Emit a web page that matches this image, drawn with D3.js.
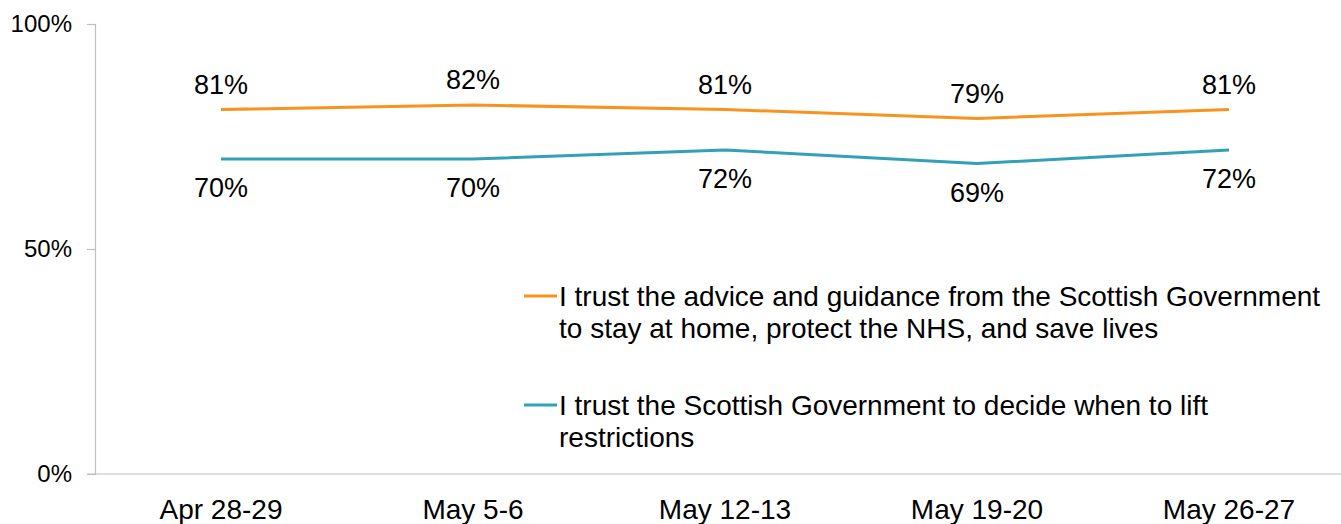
<!DOCTYPE html>
<html>
<head>
<meta charset="utf-8">
<script src="https://cdn.jsdelivr.net/npm/d3@7"></script>
<style>
  html, body { margin: 0; padding: 0; background: #fff; }
  svg { display: block; font-family: "Liberation Sans", Arial, sans-serif; }
</style>
</head>
<body>
<svg id="chart" width="1341" height="524"></svg>
<script>
// Survey waves
const categories = ["Apr 28-29", "May 5-6", "May 12-13", "May 19-20", "May 26-27"];
// Share agreeing, per wave (%)
const adviceTrust = [81, 82, 81, 79, 81];
const liftTrust = [70, 70, 72, 69, 72];
const yTicks = [0, 50, 100];
const seriesNames = [
  ["I trust the advice and guidance from the Scottish Government", "to stay at home, protect the NHS, and save lives"],
  ["I trust the Scottish Government to decide when to lift", "restrictions"]
];

const series = [
  { values: adviceTrust, color: "#F7931E", labelDy: -16, name: seriesNames[0] },
  { values: liftTrust, color: "#31A0B8", labelDy: 38, name: seriesNames[1] }
];

const svg = d3.select("#chart");
const plotLeft = 95, plotTop = 24, plotBottom = 474, plotRight = 1355;

const x = d3.scaleBand().domain(categories).range([plotLeft, plotRight]);
const y = d3.scaleLinear().domain([0, 100]).range([plotBottom, plotTop]);
const axisColor = "#BFBFBF";

// Y axis
const yAxis = svg.append("g")
  .attr("transform", `translate(${plotLeft},0)`)
  .call(d3.axisLeft(y).tickValues(yTicks).tickSize(8).tickPadding(15)
    .tickFormat(d => d + "%"));
yAxis.select(".domain").attr("stroke", axisColor).attr("stroke-width", 1.2);
yAxis.selectAll(".tick line").attr("stroke", axisColor).attr("stroke-width", 1.2);
yAxis.selectAll(".tick text")
  .attr("fill", "#000").style("font-size", "24px")
  .style("font-family", "Liberation Sans, Arial, sans-serif");

// X axis
const xAxis = svg.append("g")
  .attr("transform", `translate(0,${plotBottom})`)
  .call(d3.axisBottom(x).tickSize(0).tickPadding(25));
xAxis.select(".domain").remove();
svg.append("line")
  .attr("x1", plotLeft - 8).attr("x2", 1341)
  .attr("y1", plotBottom).attr("y2", plotBottom)
  .attr("stroke", axisColor).attr("stroke-width", 1.2);
xAxis.selectAll(".tick text")
  .attr("fill", "#000").style("font-size", "28px")
  .style("font-family", "Liberation Sans, Arial, sans-serif")
  .attr("dy", "0.71em");

const cx = d => x(d) + x.bandwidth() / 2;
const line = d3.line()
  .x((d, i) => cx(categories[i]))
  .y(d => y(d));

series.forEach(s => {
  svg.append("path")
    .datum(s.values)
    .attr("fill", "none")
    .attr("stroke", s.color)
    .attr("stroke-width", 3)
    .attr("d", line);

  svg.append("g").selectAll("text")
    .data(s.values)
    .join("text")
    .attr("x", (d, i) => cx(categories[i]))
    .attr("y", d => y(d) + s.labelDy)
    .attr("text-anchor", "middle")
    .style("font-size", "27px")
    .attr("fill", "#000")
    .text(d => d + "%");
});

// Legend
const legendX = 524;
const legendRows = [296, 405];
series.forEach((s, i) => {
  const g = svg.append("g").attr("transform", `translate(${legendX},${legendRows[i]})`);
  g.append("line")
    .attr("x1", 0).attr("x2", 33).attr("y1", 0).attr("y2", 0)
    .attr("stroke", s.color).attr("stroke-width", 3);
  const t = g.append("text")
    .attr("x", 35).attr("y", 10)
    .style("font-size", "28px")
    .attr("fill", "#000");
  s.name.forEach((ln, j) => {
    t.append("tspan").attr("x", 35).attr("dy", j === 0 ? 0 : 32).text(ln);
  });
});
</script>
</body>
</html>
